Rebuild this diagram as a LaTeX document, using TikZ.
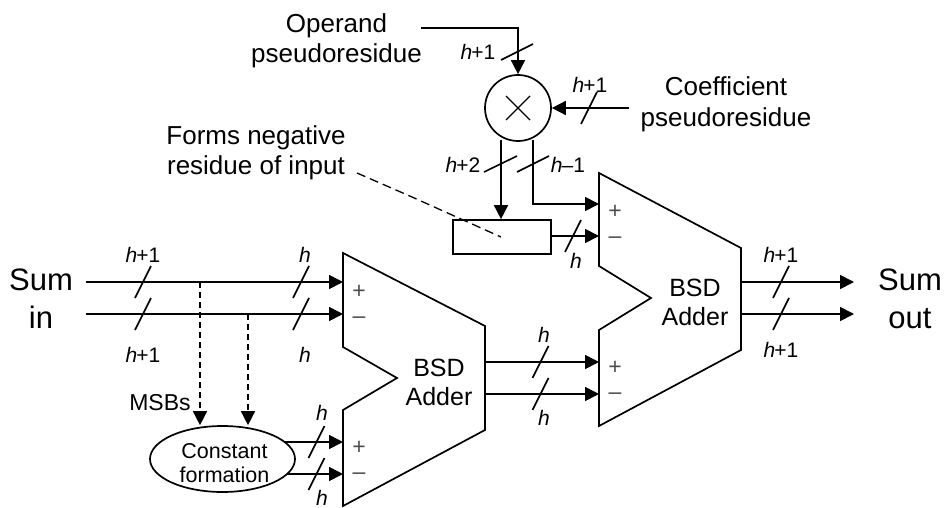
\documentclass[tikz,border=0pt]{standalone}
\usepackage{fontspec}
\setmainfont{Liberation Sans}
\usetikzlibrary{arrows.meta,shapes.geometric}
\newcommand{\fs}[1]{\fontsize{#1}{#1}\selectfont}
\newcommand{\wl}[1]{\textit{h}\kern-1pt#1}
\tikzset{
  x=1pt,y=-1pt,
  wire/.style={line width=1.7pt},
  arr/.style={wire,-{Triangle[length=14pt,width=14pt]}},
  darr/.style={arr,dash pattern=on 6pt off 4pt},
  tick/.style={line width=1.6pt},
  body/.style={line width=1.7pt,line join=miter},
  big/.style={font=\fs{31},align=center,inner sep=0pt},
  mid/.style={font=\fs{26},align=center,inner sep=0pt},
  msblab/.style={font=\fs{23},align=center,inner sep=0pt},
  wlab/.style={font=\fs{21},inner sep=0pt},
  sgn/.style={font=\fs{23},text=black!70,inner sep=0pt},
}
\newcommand{\slashat}[2]{\draw[tick] (#1-8,#2+16) -- (#1+8,#2-16);}
\begin{document}
\begin{tikzpicture}
\useasboundingbox (0,0) rectangle (945,508);
% adders
\draw[body] (343,253) -- (485,326) -- (485,430) -- (343,506) -- (343,410) -- (397,378) -- (343,347) -- cycle;
\draw[body] (599,173) -- (741,248) -- (741,350) -- (599,426) -- (599,330) -- (651,298) -- (599,266) -- cycle;
\node[mid,font=\fs{25}] (bsd1) at (439,382) {BSD\\[4pt]Adder};
\node[mid,font=\fs{25}] (bsd2) at (695,302) {BSD\\[4pt]Adder};
% connector ends on the adders
\coordinate (a1p) at (343,282); \coordinate (a1m) at (343,314);
\coordinate (a1q) at (343,442); \coordinate (a1n) at (343,474);
\coordinate (a1o) at (485,362); \coordinate (a1u) at (485,394);
\coordinate (a2q) at (599,362); \coordinate (a2n) at (599,394);
\coordinate (a2p) at (599,204); \coordinate (a2m) at (599,236);
\coordinate (a2o) at (741,282); \coordinate (a2u) at (741,314);
% nodes
\node[big] (sumin) at (41,299) {Sum\\[7pt]in};
\node[big] (sumout) at (910,299) {Sum\\[7pt]out};
\coordinate (in1) at (86,282); \coordinate (in2) at (86,314);
\coordinate (out1) at (854,282); \coordinate (out2) at (854,314);
\node[draw,ellipse,line width=1.7pt,minimum width=145pt,minimum height=66pt,inner sep=0pt] (const) at (222.5,459) {};
\node[font=\fs{21.5},align=center,inner sep=0pt] (consttxt) at (224.5,463) {Constant\\[2pt]formation};
\node[draw,circle,line width=1.7pt,minimum size=66pt,inner sep=0pt] (mul) at (518,108) {};
\draw[line width=1.4pt] (506,96) -- (530,120) (506,120) -- (530,96);
\node[draw,line width=1.7pt,minimum width=98pt,minimum height=34pt,inner sep=0pt] (neg) at (502,237) {};
\node[mid] (oplab) at (336.5,41) {Operand\\[4pt]pseudoresidue};
\node[mid] (coef) at (726,104) {Coefficient\\[5pt]pseudoresidue};
\node[mid] (forms) at (256,153) {Forms negative\\[4pt]residue of input};
\node[msblab] (msb) at (160,403) {MSBs};
% connectors
\draw[arr] (in1) -- (a1p);
\draw[arr] (in2) -- (a1m);
\coordinate (t1) at (200,282); \coordinate (t2) at (248,314);
\draw[darr] (t1) -- (t1 |- const.north);
\draw[darr] (t2) -- (t2 |- const.north);
\coordinate (c1) at (284.6,442); \coordinate (c2) at (287,474);
\draw[arr] (c1) -- (a1q);
\draw[arr] (c2) -- (a1n);
\draw[arr] (a1o) -- (a2q);
\draw[arr] (a1u) -- (a2n);
\draw[arr] (a2o) -- (out1);
\draw[arr] (a2u) -- (out2);
\coordinate (opin) at (421,28);
\draw[arr] (opin) -| (mul.north);
\coordinate (coin) at (629,108);
\draw[arr] (coin) -- (mul.east);
\coordinate (m1) at (501,140); \coordinate (m2) at (533,140);
\draw[arr] (m1) -- (m1 |- neg.north);
\draw[arr] (m2) |- (a2p);
\draw[arr] (neg.east |- a2m) -- (a2m);
\coordinate (d0) at (357,173); \coordinate (d1) at (412,197); \coordinate (d2) at (501,237);
\draw[line width=1.3pt,dash pattern=on 9pt off 5pt] (d0) -- (d1) -- (d2);
% slashes
\slashat{143}{282}\slashat{143}{314}
\slashat{301}{282}\slashat{301}{314}
\slashat{316.5}{442}\slashat{316.5}{474}
\slashat{540.5}{362}\slashat{540.5}{394}
\slashat{781}{282}\slashat{781}{314}
\slashat{573}{236}
\slashat{589}{108}
\draw[tick] (501,60) -- (533,44);
\draw[tick] (484,172) -- (517,156);
\draw[tick] (517,172) -- (549,156);
% labels
\node[wlab] (l1) at (143,255) {\wl{+1}};
\node[wlab] (l2) at (143,355) {\wl{+1}};
\node[wlab] (l3) at (305,255) {\textit{h}};
\node[wlab] (l4) at (305,355) {\textit{h}};
\node[wlab] (l5) at (322,413) {\textit{h}};
\node[wlab] (l6) at (322,498) {\textit{h}};
\node[wlab] (l7) at (544,335) {\textit{h}};
\node[wlab] (l8) at (544,418) {\textit{h}};
\node[wlab] (l9) at (781,255) {\wl{+1}};
\node[wlab] (l10) at (781,350) {\wl{+1}};
\node[wlab] (l11) at (576,261) {\textit{h}};
\node[wlab] (l12) at (478,52) {\wl{+1}};
\node[wlab] (l13) at (590,85) {\wl{+1}};
\node[wlab] (l14) at (463,165) {\wl{+2}};
\node[wlab] (l15) at (568,165) {\wl{–1}};
\node[sgn] (s1) at (359,292) {+};
\node[sgn] (s2) at (359,320) {–};
\node[sgn] (s3) at (359,448) {+};
\node[sgn] (s4) at (359,476) {–};
\node[sgn] (s5) at (615,212) {+};
\node[sgn] (s6) at (615,240) {–};
\node[sgn] (s7) at (615,368) {+};
\node[sgn] (s8) at (615,396) {–};
\end{tikzpicture}
\end{document}
